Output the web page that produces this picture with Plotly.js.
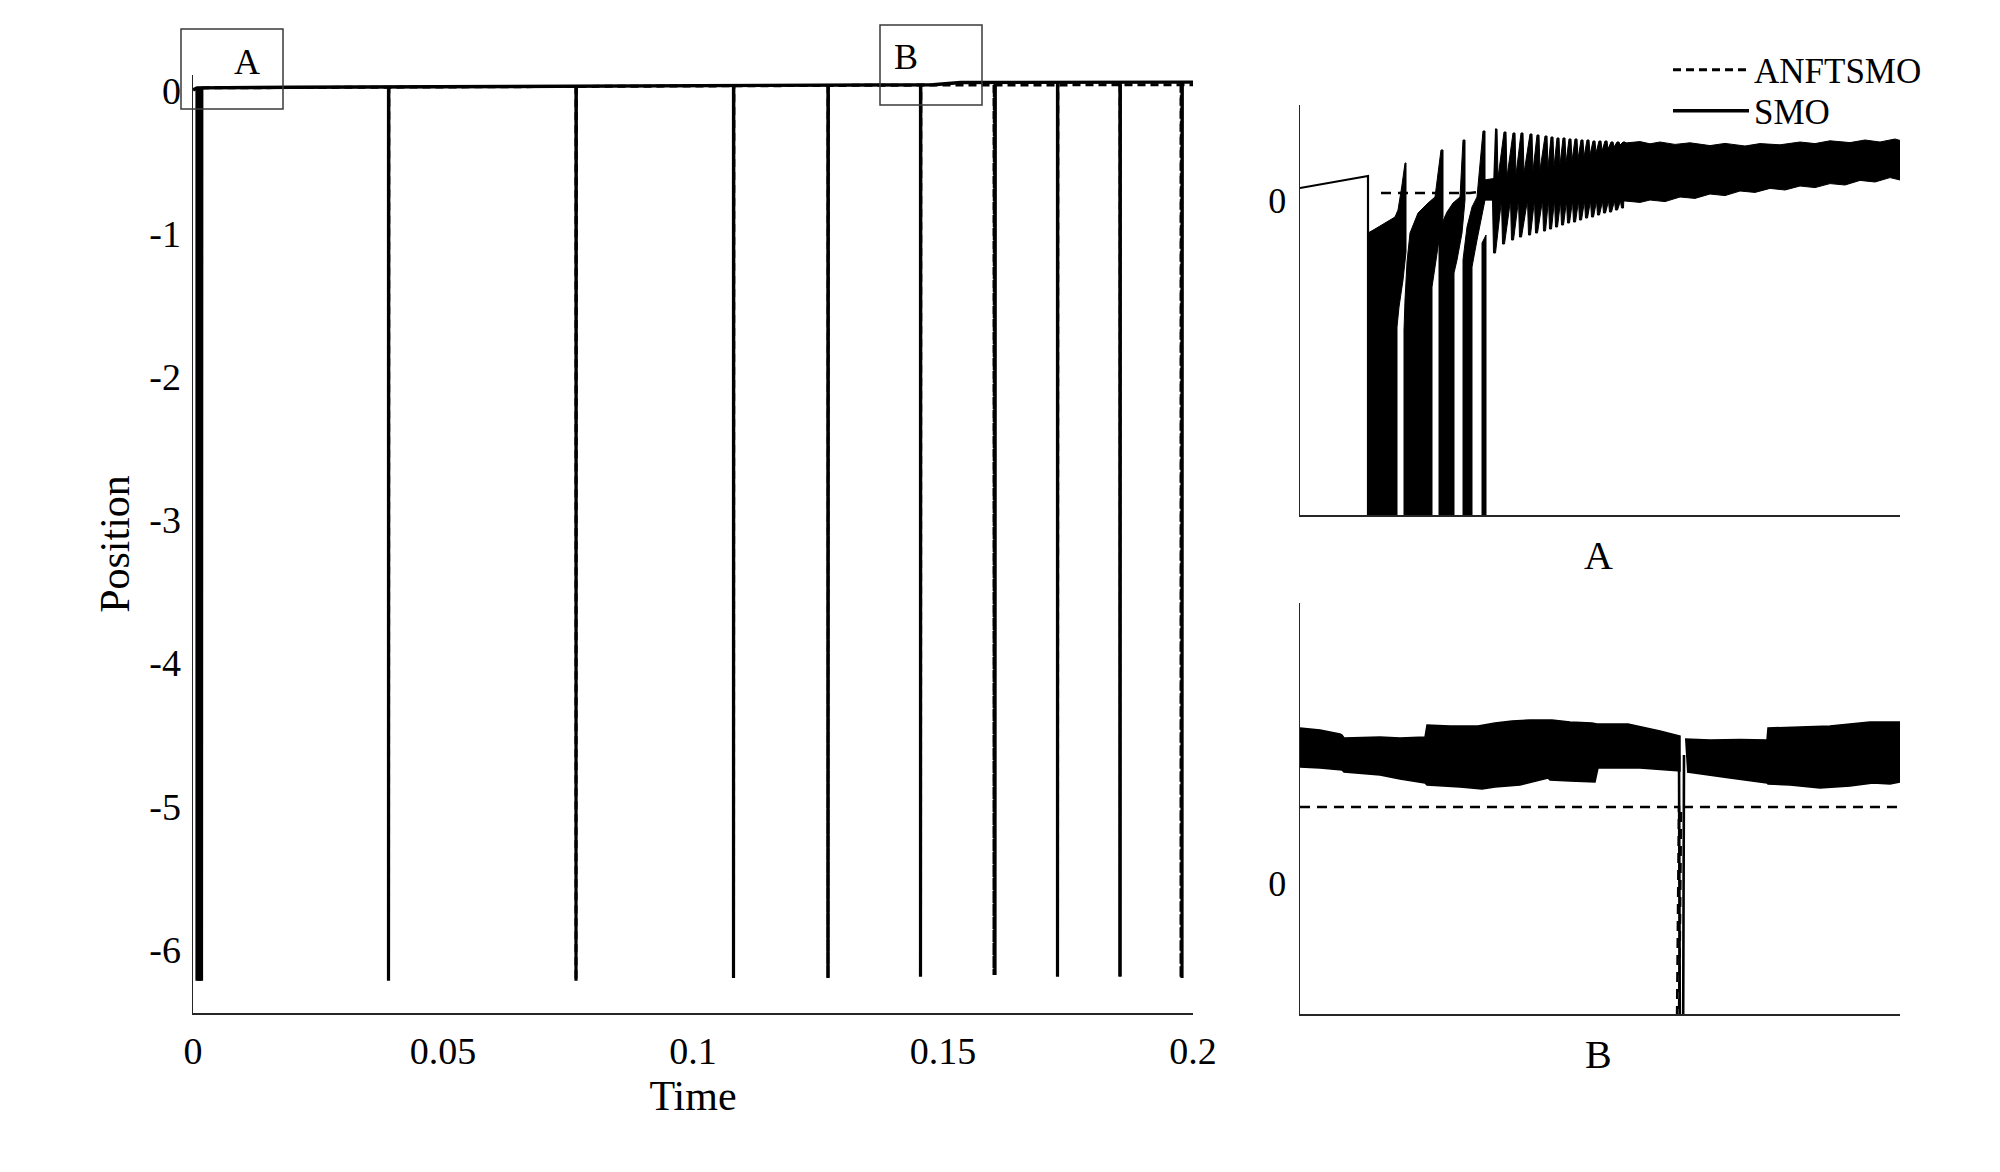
<!DOCTYPE html>
<html>
<head>
<meta charset="utf-8">
<script src="https://cdn.plot.ly/plotly-3.0.1.min.js"></script>
<style>html,body{margin:0;padding:0;background:#fff;}#chart{width:2000px;height:1172px;}</style>
</head>
<body>
<div id="chart"></div>
<script>
// ---------------- DATA ----------------
// Main plot ticks
const xTickVals = [0, 0.05, 0.1, 0.15, 0.2];
const xTickText = ['0', '0.05', '0.1', '0.15', '0.2'];
const yTickVals = [0, -1, -2, -3, -4, -5, -6];
const yTickText = ['0', '-1', '-2', '-3', '-4', '-5', '-6'];

// Main plot: SMO (solid) baseline and wrap spikes
const smoBaseT = [0, 0.0008, 0.02, 0.05, 0.1, 0.14, 0.148, 0.1535, 0.2];
const smoBaseV = [0.005, 0.02, 0.024, 0.028, 0.034, 0.04, 0.042, 0.058, 0.06];
const smoSpikeT = [0.0008, 0.0011, 0.0014, 0.0017, 0.0391, 0.0766, 0.1081, 0.127, 0.1455, 0.1604, 0.1729, 0.1854, 0.1978];
const smoSpikeTop = [0.02, 0.02, 0.02, 0.02, 0.026, 0.031, 0.034, 0.036, 0.04, 0.058, 0.06, 0.06, 0.06];
const smoSpikeBottom = [-6.22, -6.22, -6.22, -6.22, -6.22, -6.22, -6.2, -6.2, -6.19, -6.18, -6.19, -6.19, -6.2];

// Main plot: ANFTSMO (dashed) baseline and wrap spikes
const anfBaseT = [0.0017, 0.05, 0.1, 0.15, 0.2];
const anfBaseV = [0.02, 0.028, 0.034, 0.04, 0.042];
const anfSpikeT = [0.0009, 0.0013, 0.0391, 0.0766, 0.1081, 0.127, 0.1455, 0.1602, 0.1729, 0.1854, 0.1976];
const anfSpikeTop = [0.02, 0.02, 0.026, 0.031, 0.034, 0.036, 0.04, 0.04, 0.041, 0.041, 0.042];
const anfSpikeBottom = [-6.22, -6.22, -6.22, -6.22, -6.2, -6.2, -6.19, -6.18, -6.19, -6.19, -6.2];

// Inset A (start-up, t in s)
const aSmoT = [0, 0.00068, 0.00068];
const aSmoV = [0.06, 0.12, -1.6];
const aAnfT = [0.00081, 0.0017, 0.0033, 0.006];
const aAnfV = [0.035, 0.035, 0.14, 0.2];
// dense wrap regions (outlines of the black areas)
const aR1T = [0.00068, 0.00068, 0.00075, 0.00085, 0.00095, 0.00098, 0.00102, 0.00105, 0.00106, 0.00106, 0.00103, 0.00099, 0.00097, 0.00097];
const aR1V = [-1.6, -0.165, -0.145, -0.115, -0.085, -0.05, 0.075, 0.185, 0.185, -0.26, -0.4, -0.535, -0.635, -1.6];
const aR2T = [0.00104, 0.00104, 0.00105, 0.00107, 0.0011, 0.00118, 0.00128, 0.00135, 0.00141, 0.00143, 0.00143, 0.00139, 0.00135, 0.00132, 0.00132];
const aR2V = [-1.6, -0.65, -0.5, -0.31, -0.165, -0.065, -0.015, 0.015, 0.25, 0.25, -0.085, -0.2, -0.335, -0.435, -1.6];
const aR3T = [0.00139, 0.00139, 0.00142, 0.00147, 0.00153, 0.0016, 0.00163, 0.00165, 0.00165, 0.00162, 0.00157, 0.00154, 0.00154];
const aR3V = [-1.6, -0.2, -0.115, -0.06, -0.015, 0.015, 0.3, 0.3, 0.0, -0.165, -0.3, -0.365, -1.6];
const aR4T = [0.00163, 0.00163, 0.00167, 0.00172, 0.00177, 0.00183, 0.00185, 0.00185, 0.00177, 0.00172, 0.00172];
const aR4V = [-1.6, -0.3, -0.135, -0.035, 0.015, 0.345, 0.345, 0.0, -0.2, -0.335, -1.6];
const aR5T = [0.00182, 0.00182, 0.00186, 0.00186];
const aR5V = [-1.6, -0.215, -0.175, -1.6];
// chattering band after convergence (upper edge left->right, lower edge right->left)
const aBandT = [0.00184, 0.00197, 0.00253, 0.00325, 0.0034, 0.0035, 0.0036, 0.00375, 0.0039, 0.0041, 0.00425, 0.00445, 0.0046, 0.0048, 0.005, 0.00515, 0.0053, 0.0055, 0.00565, 0.0058, 0.00595, 0.006,
                0.006, 0.0059, 0.00575, 0.0056, 0.00545, 0.0053, 0.00515, 0.005, 0.00485, 0.0047, 0.00455, 0.0044, 0.00425, 0.0041, 0.00395, 0.0038, 0.00365, 0.0035, 0.0034, 0.00325, 0.00184];
const aBandV = [0.1, 0.11, 0.165, 0.285, 0.292, 0.281, 0.29, 0.278, 0.286, 0.272, 0.283, 0.27, 0.282, 0.276, 0.29, 0.282, 0.296, 0.287, 0.3, 0.29, 0.305, 0.298,
                0.1, 0.112, 0.09, 0.098, 0.075, 0.082, 0.062, 0.07, 0.05, 0.058, 0.038, 0.045, 0.022, 0.03, 0.008, 0.015, -0.008, 0.0, -0.012, -0.005, 0.0];
// chattering teeth: time, upper tip, lower tip, core top, core bottom
const aTeethT = [0.00197, 0.00206, 0.00215, 0.00223, 0.00232, 0.00239, 0.00247, 0.00253, 0.00259, 0.00265, 0.00271, 0.00277, 0.00283, 0.00289, 0.00295, 0.00301, 0.00307, 0.00313, 0.00319, 0.00325];
const aTeethHigh = [0.355, 0.34, 0.335, 0.335, 0.33, 0.325, 0.32, 0.315, 0.31, 0.31, 0.305, 0.305, 0.3, 0.3, 0.295, 0.295, 0.295, 0.29, 0.29, 0.29];
const aTeethLow = [-0.265, -0.22, -0.2, -0.185, -0.175, -0.165, -0.155, -0.145, -0.135, -0.125, -0.115, -0.11, -0.1, -0.09, -0.085, -0.075, -0.065, -0.06, -0.05, -0.04];
const aTeethCoreHigh = [0.11, 0.115, 0.125, 0.135, 0.145, 0.15, 0.16, 0.165, 0.175, 0.185, 0.195, 0.205, 0.215, 0.225, 0.235, 0.245, 0.255, 0.265, 0.275, 0.285];
const aTeethCoreLow = [0, 0, 0, 0, 0, 0, 0, 0, 0, -0.005, -0.005, -0.005, -0.005, -0.005, -0.005, -0.005, -0.005, -0.005, -0.005, -0.005];

// Inset B (around t = 0.1454 s)
const bLeftT = [0.1416, 0.1418, 0.142, 0.14202, 0.14204, 0.1424, 0.1426, 0.14285, 0.14287, 0.1431, 0.14338, 0.14355, 0.14372, 0.1439, 0.14412, 0.1443, 0.14452, 0.14457, 0.14488, 0.1452, 0.1454,
                0.1454, 0.145, 0.14458, 0.14455, 0.1443, 0.1441, 0.14408, 0.1438, 0.14355, 0.14342, 0.1432, 0.14287, 0.14285, 0.1426, 0.1424, 0.14204, 0.14202, 0.1418, 0.1416];
const bLeftV = [0.0775, 0.0765, 0.0745, 0.074, 0.0725, 0.073, 0.0725, 0.073, 0.079, 0.0785, 0.0785, 0.08, 0.081, 0.0815, 0.0815, 0.0805, 0.08, 0.0795, 0.0795, 0.076, 0.0735,
                0.056, 0.0575, 0.0575, 0.0505, 0.051, 0.0515, 0.0525, 0.049, 0.048, 0.047, 0.048, 0.049, 0.05, 0.052, 0.054, 0.0555, 0.0565, 0.0575, 0.058];
const bRightT = [0.14545, 0.1457, 0.146, 0.14627, 0.14628, 0.1466, 0.1469, 0.1471, 0.1473, 0.1476,
                 0.1476, 0.1475, 0.14733, 0.1471, 0.1468, 0.1465, 0.14628, 0.14627, 0.1459, 0.14547];
const bRightV = [0.072, 0.0715, 0.0718, 0.0715, 0.0775, 0.078, 0.0785, 0.0795, 0.0805, 0.0805,
                 0.0505, 0.0495, 0.05, 0.0485, 0.0475, 0.049, 0.0495, 0.05, 0.0525, 0.0555];
const bSmoSpikeT = [0.14539, 0.1454, 0.14543, 0.14544];
const bSmoSpikeV = [0.064, -0.1, -0.1, 0.064];
const bAnfT = [0.1416, 0.14539, 0.145365, 0.145385, 0.14541, 0.1476];
const bAnfV = [0.038, 0.038, -0.1, -0.1, 0.038, 0.038];

// ---------------- BUILD ----------------
function spikes(ts, tops, bots, w) {
  const x = [], y = [];
  ts.forEach((t, i) => {
    x.push(t, t, t + w, t + w, null);
    y.push(tops[i], bots[i], bots[i], tops[i], null);
  });
  return {x, y};
}
function joinPolys(list) {
  const x = [], y = [];
  list.forEach((p, k) => {
    if (k) { x.push(null); y.push(null); }
    x.push(...p[0]); y.push(...p[1]);
  });
  return {x, y};
}
// closed outline of the toothed chattering band
function teethPoly(ts, hi, lo, cHi, cLo, tip, step, lean) {
  const x = [], y = [];
  for (let i = 0; i < ts.length; i++) { x.push(ts[i] - tip, ts[i], ts[i] + step); y.push(hi[i], hi[i], cHi[i]); }
  for (let i = ts.length - 1; i >= 0; i--) { x.push(ts[i] - lean, ts[i] - lean - tip, ts[i] - lean - tip - step); y.push(lo[i], lo[i], cLo[i]); }
  return [x, y];
}

const BLACK = '#000000';
const FONT = '"Liberation Serif", "Times New Roman", Times, serif';
const AXC = '#262626';

const smoSp = spikes(smoSpikeT, smoSpikeTop, smoSpikeBottom, 0.00006);
const anfSp = spikes(anfSpikeT, anfSpikeTop, anfSpikeBottom, 0.00006);
const aTeeth = teethPoly(aTeethT, aTeethHigh, aTeethLow, aTeethCoreHigh, aTeethCoreLow, 0.00002, 0.00001, 0.000015);
const aPoly = joinPolys([[aR1T, aR1V], [aR2T, aR2V], [aR3T, aR3V], [aR4T, aR4V], [aR5T, aR5V], [aBandT, aBandV]]);
const bPoly = joinPolys([[bLeftT, bLeftV], [bRightT, bRightV]]);

const dashMain = '8px,5px';
const dashInset = '10px,7px';

const traces = [
  // main
  {x: smoBaseT, y: smoBaseV, mode: 'lines', name: 'SMO', legend: 'legend2', line: {color: BLACK, width: 3.4}, xaxis: 'x', yaxis: 'y'},
  {x: smoSp.x, y: smoSp.y, mode: 'lines', showlegend: false, connectgaps: false, line: {color: BLACK, width: 3.2}, xaxis: 'x', yaxis: 'y'},
  {x: anfBaseT, y: anfBaseV, mode: 'lines', name: 'ANFTSMO', legend: 'legend', line: {color: BLACK, width: 3, dash: dashMain}, xaxis: 'x', yaxis: 'y'},
  {x: anfSp.x, y: anfSp.y, mode: 'lines', showlegend: false, connectgaps: false, line: {color: BLACK, width: 3, dash: dashMain}, xaxis: 'x', yaxis: 'y'},
  // inset A
  {x: aAnfT, y: aAnfV, mode: 'lines', showlegend: false, line: {color: BLACK, width: 2.6, dash: dashInset}, xaxis: 'x2', yaxis: 'y2'},
  {x: aSmoT, y: aSmoV, mode: 'lines', showlegend: false, line: {color: BLACK, width: 2.2}, xaxis: 'x2', yaxis: 'y2'},
  {x: aPoly.x, y: aPoly.y, mode: 'lines', fill: 'toself', fillcolor: BLACK, connectgaps: false, showlegend: false, line: {color: BLACK, width: 1, simplify: false}, xaxis: 'x2', yaxis: 'y2'},
  {x: aTeeth[0], y: aTeeth[1], mode: 'lines', fill: 'toself', fillcolor: BLACK, showlegend: false, line: {color: BLACK, width: 1, simplify: false}, xaxis: 'x2', yaxis: 'y2'},
  // inset B
  {x: bAnfT, y: bAnfV, mode: 'lines', showlegend: false, line: {color: BLACK, width: 2.6, dash: dashInset}, xaxis: 'x3', yaxis: 'y3'},
  {x: bPoly.x, y: bPoly.y, mode: 'lines', fill: 'toself', fillcolor: BLACK, connectgaps: false, showlegend: false, line: {color: BLACK, width: 1.5, simplify: false}, xaxis: 'x3', yaxis: 'y3'},
  {x: bSmoSpikeT, y: bSmoSpikeV, mode: 'lines', showlegend: false, line: {color: BLACK, width: 2.6}, xaxis: 'x3', yaxis: 'y3'}
];

const W = 2000, H = 1172;
const px = v => v / W, py = v => 1 - v / H;

const baseAxis = {showgrid: false, zeroline: false, showline: true, linecolor: AXC, linewidth: 1.5, ticks: '', mirror: false};
const legendStyle = {xanchor: 'left', yanchor: 'middle', font: {family: FONT, size: 35, color: '#000'},
                     bgcolor: 'rgba(0,0,0,0)', borderwidth: 0, itemwidth: 76};

const layout = {
  width: W, height: H,
  margin: {l: 0, r: 0, t: 0, b: 0, pad: 0},
  paper_bgcolor: '#ffffff', plot_bgcolor: '#ffffff',
  font: {family: FONT, color: '#000000', size: 36},
  showlegend: true,
  legend: Object.assign({x: px(1668), y: py(70)}, legendStyle),
  legend2: Object.assign({x: px(1668), y: py(111)}, legendStyle),
  xaxis: Object.assign({}, baseAxis, {domain: [px(193), px(1193)], range: [0, 0.2], tickvals: xTickVals, ticktext: xTickText,
          tickfont: {family: FONT, size: 38}, ticklabelstandoff: 4,
          title: {text: 'Time', font: {family: FONT, size: 42}, standoff: 9}, anchor: 'y'}),
  yaxis: Object.assign({}, baseAxis, {domain: [py(1013), py(75)], range: [-6.445, 0.11], tickvals: yTickVals, ticktext: yTickText,
          tickfont: {family: FONT, size: 38}, ticklabelstandoff: 3,
          title: {text: 'Position', font: {family: FONT, size: 42}, standoff: 6}, anchor: 'x'}),
  xaxis2: Object.assign({}, baseAxis, {domain: [px(1300), px(1900)], range: [0, 0.006], showticklabels: false, anchor: 'y2'}),
  yaxis2: Object.assign({}, baseAxis, {domain: [py(515), py(105)], range: [-1.575, 0.475], tickvals: [0], ticktext: ['0'],
          tickfont: {family: FONT, size: 36}, ticklabelstandoff: 5, anchor: 'x2'}),
  xaxis3: Object.assign({}, baseAxis, {domain: [px(1300), px(1900)], range: [0.1416, 0.1476], showticklabels: false, anchor: 'y3'}),
  yaxis3: Object.assign({}, baseAxis, {domain: [py(1014), py(603)], range: [-0.0655, 0.14], tickvals: [0], ticktext: ['0'],
          tickfont: {family: FONT, size: 36}, ticklabelstandoff: 5, anchor: 'x3'}),
  shapes: [
    {type: 'rect', xref: 'paper', yref: 'paper', x0: px(181), x1: px(283), y0: py(109), y1: py(29), line: {color: '#3a3a3a', width: 1.5}},
    {type: 'rect', xref: 'paper', yref: 'paper', x0: px(880), x1: px(982), y0: py(105), y1: py(25), line: {color: '#3a3a3a', width: 1.5}}
  ],
  annotations: [
    {text: 'A', xref: 'paper', yref: 'paper', x: px(247), y: py(62), xanchor: 'center', yanchor: 'middle', showarrow: false, font: {family: FONT, size: 36}},
    {text: 'B', xref: 'paper', yref: 'paper', x: px(906), y: py(57), xanchor: 'center', yanchor: 'middle', showarrow: false, font: {family: FONT, size: 36}},
    {text: 'A', xref: 'paper', yref: 'paper', x: px(1598), y: py(555), xanchor: 'center', yanchor: 'middle', showarrow: false, font: {family: FONT, size: 40}},
    {text: 'B', xref: 'paper', yref: 'paper', x: px(1598), y: py(1054), xanchor: 'center', yanchor: 'middle', showarrow: false, font: {family: FONT, size: 40}}
  ]
};

Plotly.newPlot('chart', traces, layout, {displayModeBar: false, staticPlot: true});
</script>
</body>
</html>
